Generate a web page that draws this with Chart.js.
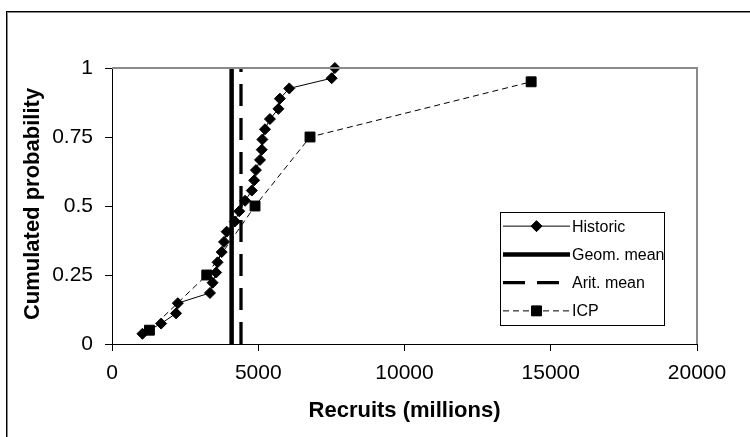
<!DOCTYPE html>
<html>
<head>
<meta charset="utf-8">
<script src="https://cdn.jsdelivr.net/npm/chart.js@4.4.0/dist/chart.umd.min.js"></script>
<style>
  html, body { margin: 0; padding: 0; background: #fff; overflow: hidden; }
  #wrap { position: relative; width: 750px; height: 437px; }
  #frame { position: absolute; left: 6px; top: 11px; width: 900px; height: 600px;
           border-left: 1px solid #000; border-top: 1px solid #000; box-shadow: inset 1px 1px 0 #888; }
  #chart { position: absolute; left: 0; top: 0; }
</style>
</head>
<body>
<div id="wrap">
  <div id="frame"></div>
  <canvas id="chart" width="750" height="437"></canvas>
</div>
<script>
// values
const historicX = [1040, 1680, 2190, 2250, 3350, 3440, 3560, 3610, 3750, 3830, 3920, 4200, 4350, 4550,
                   4780, 4860, 4920, 5060, 5120, 5140, 5230, 5400, 5690, 5740, 6060, 7510, 7620];
const historicY = [0.037, 0.074, 0.111, 0.148, 0.185, 0.222, 0.259, 0.296, 0.333, 0.370, 0.407, 0.444, 0.481, 0.519,
                   0.556, 0.593, 0.630, 0.667, 0.704, 0.741, 0.778, 0.815, 0.852, 0.889, 0.926, 0.963, 1.0];
const icpX = [1280, 3240, 4890, 6770, 14330];
const icpY = [0.05, 0.25, 0.5, 0.75, 0.95];
const geomMeanX = [4090, 4090];
const aritMeanX = [4410, 4410];
const meanY = [0, 1];
const xTickLabels = ['0', '5000', '10000', '15000', '20000'];
const yTickLabels = ['0', '0.25', '0.5', '0.75', '1'];
const legendLabels = ['Historic', 'Geom. mean', 'Arit. mean', 'ICP'];

const FONT = "'Liberation Sans', Arial, sans-serif";
const pts = (xs, ys) => xs.map((x, i) => ({ x: x, y: ys[i] }));

// titles + legend drawn by hand so they sit where the original has them
const extras = {
  id: 'extras',
  afterDraw(chart) {
    const ctx = chart.ctx;
    const a = chart.chartArea;
    ctx.save();
    // gray frame on top and right of plot area
    ctx.strokeStyle = '#8a8a8a';
    ctx.lineWidth = 2;
    ctx.beginPath();
    ctx.moveTo(a.left, a.top);
    ctx.lineTo(a.right, a.top);
    ctx.lineTo(a.right, a.bottom);
    ctx.stroke();

    // axis titles
    ctx.fillStyle = '#000';
    ctx.font = 'bold 22px ' + FONT;
    ctx.textAlign = 'center';
    ctx.textBaseline = 'middle';
    ctx.fillText('Recruits (millions)', (a.left + a.right) / 2, 411);
    ctx.translate(33, 204);
    ctx.rotate(-Math.PI / 2);
    ctx.fillText('Cumulated probability', 0, 0);
    ctx.restore();

    // legend
    ctx.save();
    const L = 500, R = 664, T = 212, B = 325;
    ctx.fillStyle = '#fff';
    ctx.fillRect(L, T, R - L, B - T);
    ctx.strokeStyle = '#000';
    ctx.lineWidth = 1;
    ctx.strokeRect(L + 0.5, T + 0.5, R - L, B - T);
    const x0 = 503, x1 = 570, step = (B - T) / 4;
    legendLabels.forEach((lab, i) => {
      const y = T + step * (i + 0.5);
      const ds = chart.data.datasets[i];
      ctx.strokeStyle = '#000';
      ctx.lineWidth = ds.borderWidth;
      ctx.setLineDash(ds.borderDash || []);
      ctx.beginPath();
      ctx.moveTo(x0, y);
      ctx.lineTo(x1, y);
      ctx.stroke();
      ctx.setLineDash([]);
      if (ds.pointRadius > 0) {
        Chart.helpers.drawPoint(ctx, { pointStyle: ds.pointStyle, radius: ds.pointRadius, borderWidth: 1 }, (x0 + x1) / 2, y);
        ctx.fillStyle = '#000';
        ctx.fill();
      }
      ctx.fillStyle = '#000';
      ctx.font = '16px ' + FONT;
      ctx.textAlign = 'left';
      ctx.textBaseline = 'middle';
      ctx.fillText(lab, 572, y + 1);
    });
    ctx.restore();
  }
};

new Chart(document.getElementById('chart'), {
  type: 'scatter',
  data: {
    datasets: [
      { label: legendLabels[0], data: pts(historicX, historicY), showLine: true,
        borderColor: '#000', borderWidth: 1, backgroundColor: '#000',
        pointStyle: 'rectRot', pointRadius: 5.5, pointBorderWidth: 1, order: 4 },
      { label: legendLabels[1], data: pts(geomMeanX, meanY), showLine: true,
        borderColor: '#000', borderWidth: 4.5, pointRadius: 0, order: 3 },
      { label: legendLabels[2], data: pts(aritMeanX, meanY), showLine: true,
        borderColor: '#000', borderWidth: 3.3, borderDash: [22, 12], pointRadius: 0, order: 2 },
      { label: legendLabels[3], data: pts(icpX, icpY), showLine: true,
        borderColor: '#000', borderWidth: 1, borderDash: [6, 4], backgroundColor: '#000',
        pointStyle: 'rect', pointRadius: 7, pointBorderWidth: 1, order: 1 }
    ]
  },
  options: {
    responsive: false,
    animation: false,
    clip: false,
    layout: { padding: { left: 0, top: 68, right: 53, bottom: 0 } },
    plugins: { legend: { display: false }, tooltip: { enabled: false } },
    scales: {
      x: {
        type: 'linear', min: 0, max: 20000,
        afterFit: s => { s.height = 93; },
        afterBuildTicks: s => { s.ticks = xTickLabels.map(v => ({ value: Number(v) })); },
        ticks: { callback: (v, i) => xTickLabels[i], color: '#000', padding: 10,
                 font: { family: FONT, size: 21 }, maxRotation: 0 },
        grid: { drawOnChartArea: false, drawTicks: true, tickLength: 7, color: '#000' },
        border: { color: '#000', width: 1 }
      },
      y: {
        min: 0, max: 1,
        afterFit: s => { s.width = 112; },
        afterBuildTicks: s => { s.ticks = yTickLabels.map(v => ({ value: Number(v) })); },
        ticks: { callback: (v, i) => yTickLabels[i], color: '#000', padding: 12,
                 font: { family: FONT, size: 21 } },
        grid: { drawOnChartArea: false, drawTicks: true, tickLength: 7, color: '#000' },
        border: { color: '#000', width: 1 }
      }
    }
  },
  plugins: [extras]
});
</script>
</body>
</html>
